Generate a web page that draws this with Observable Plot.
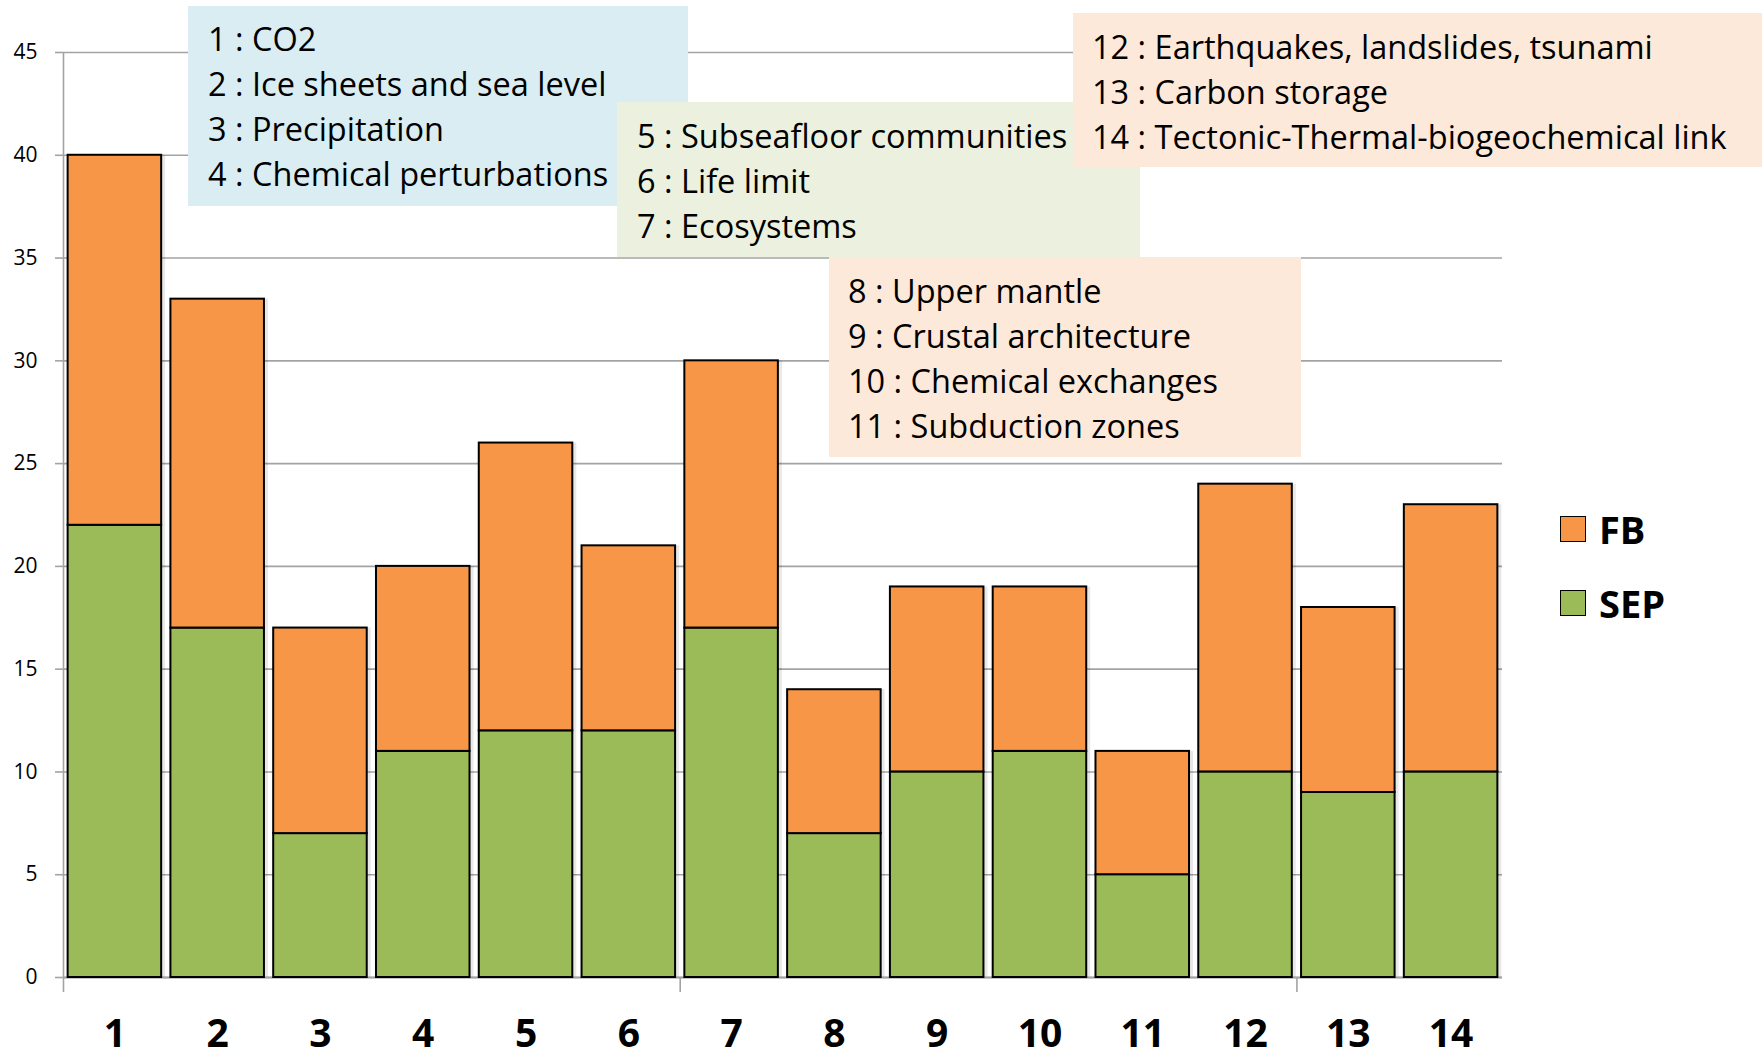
<!DOCTYPE html>
<html>
<head>
<meta charset="utf-8">
<script src="https://cdn.jsdelivr.net/npm/d3@7"></script>
<script src="https://cdn.jsdelivr.net/npm/@observablehq/plot@0.6"></script>
<style>
  html, body { margin: 0; padding: 0; background: #fff; }
  #wrap { position: relative; width: 1762px; height: 1057px; overflow: hidden; font-family: "Open Sans", "Noto Sans", sans-serif; }
  .box { position: absolute; box-sizing: border-box; color: #000; font-size: 32.5px; line-height: 45px; white-space: nowrap; }
  .legend { position: absolute; left: 1560px; font-family: "Open Sans", sans-serif; font-weight: bold; font-size: 38px; }
  .legend div { position: absolute; display: flex; align-items: center; height: 27px; }
  .legend span.sw { display: inline-block; width: 24px; height: 24px; border: 1.5px solid #000; margin-right: 13px; }
</style>
</head>
<body>
<div id="wrap"></div>
<script>
// ---- data ----
const categories = ["1","2","3","4","5","6","7","8","9","10","11","12","13","14"];
const SEP = [22,17,7,11,12,12,17,7,10,11,5,10,9,10];
const FB  = [18,16,10,9,14,9,13,7,9,8,6,14,9,13];
const seriesNames = ["SEP", "FB"];
const seriesColors = ["#9bbb59", "#f79646"];
const yTicks = [0,5,10,15,20,25,30,35,40,45];
const groupBoundaries = ["1","7","13"];

const boxes = [
  {lines: ["1 : CO2", "2 : Ice sheets and sea level", "3 : Precipitation", "4 : Chemical perturbations"], bg: "#daedf3"},
  {lines: ["5 : Subseafloor communities", "6 : Life limit", "7 : Ecosystems"], bg: "#ebf1de"},
  {lines: ["8 : Upper mantle", "9 : Crustal architecture", "10 : Chemical exchanges", "11 : Subduction zones"], bg: "#fde9d9"},
  {lines: ["12 : Earthquakes, landslides, tsunami", "13 : Carbon storage", "14 : Tectonic-Thermal-biogeochemical link"], bg: "#fde9d9"}
];
const boxLayout = [
  {left: 188, top: 6, width: 500, height: 200, padL: 20, padT: 10},
  {left: 617, top: 102, width: 523, height: 155, padL: 20, padT: 11},
  {left: 829, top: 257, width: 472, height: 200, padL: 19, padT: 11},
  {left: 1073, top: 13, width: 689, height: 154, padL: 19, padT: 11}
];

// ---- table ----
const rows = [];
categories.forEach((c, i) => {
  rows.push({cat: c, series: "SEP", value: SEP[i]});
  rows.push({cat: c, series: "FB", value: FB[i]});
});

const W = 1762, H = 1057;
const mL = 63, mR = 260, mT = 52, mB = 80;
const step = (W - mL - mR) / categories.length;

const chart = Plot.plot({
  width: W,
  height: H,
  marginLeft: mL,
  marginRight: mR,
  marginTop: mT,
  marginBottom: mB,
  style: {fontFamily: "'Open Sans', sans-serif", background: "white", overflow: "visible"},
  x: {domain: categories, paddingInner: 0.09, paddingOuter: 0.045, round: false, label: null},
  y: {domain: [0, 45], ticks: yTicks, label: null},
  color: {domain: seriesNames, range: seriesColors},
  marks: [
    Plot.gridY(yTicks, {stroke: "#a3a3a3", strokeOpacity: 1, strokeWidth: 1.6}),
    Plot.axisY(yTicks, {tickSize: 8, tickPadding: 18, stroke: "#a3a3a3", strokeWidth: 1.6, fontSize: 21, fill: "#000", label: null}),
    Plot.ruleX(groupBoundaries, {x: d => d, dx: -step / 2, y1: 0, y2: 0, insetBottom: -15, stroke: "#a3a3a3", strokeWidth: 1.6}),
    Plot.ruleX(["1"], {x: d => d, dx: -step / 2, y1: 0, y2: 45, stroke: "#a3a3a3", strokeWidth: 1.6}),
    Plot.rectY(rows, Plot.stackY({x: "cat", y: "value", z: "series", order: seriesNames, fill: "#000", fillOpacity: 0.09, dx: 4})),
    Plot.ruleY([0], {stroke: "#a3a3a3", strokeWidth: 2}),
    Plot.rectY(rows, Plot.stackY({x: "cat", y: "value", fill: "series", order: seriesNames, stroke: "#000", strokeWidth: 2})),
    Plot.axisX({tickSize: 0, tickPadding: 42, fontSize: 39, fontWeight: "bold", fill: "#000", label: null})
  ]
});

const wrap = document.getElementById("wrap");
wrap.appendChild(chart);
chart.style.position = "absolute";
chart.style.left = "0px";
chart.style.top = "0px";

// annotation boxes
boxes.forEach((b, i) => {
  const L = boxLayout[i];
  const d = document.createElement("div");
  d.className = "box";
  d.style.left = L.left + "px";
  d.style.top = L.top + "px";
  d.style.width = L.width + "px";
  d.style.height = L.height + "px";
  d.style.background = b.bg;
  d.style.paddingLeft = L.padL + "px";
  d.style.paddingTop = L.padT + "px";
  d.innerHTML = b.lines.map(t => `<div>${t}</div>`).join("");
  wrap.appendChild(d);
});

// legend
const leg = document.createElement("div");
leg.className = "legend";
const legendItems = [{name: "FB", color: seriesColors[1], top: 515}, {name: "SEP", color: seriesColors[0], top: 589}];
legendItems.forEach(it => {
  const r = document.createElement("div");
  r.style.top = it.top + "px";
  r.innerHTML = `<span class="sw" style="background:${it.color}"></span><span>${it.name}</span>`;
  leg.appendChild(r);
});
wrap.appendChild(leg);
</script>
</body>
</html>
